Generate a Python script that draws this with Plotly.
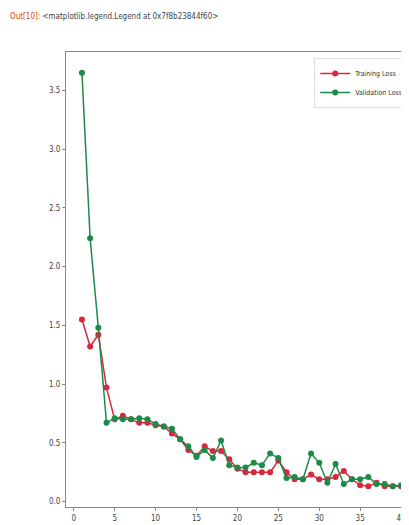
import plotly.graph_objects as go

epochs = [1, 2, 3, 4, 5, 6, 7, 8, 9, 10, 11, 12, 13, 14, 15, 16, 17, 18, 19, 20,
          21, 22, 23, 24, 25, 26, 27, 28, 29, 30, 31, 32, 33, 34, 35, 36, 37, 38, 39, 40]
training_loss = [1.55, 1.32, 1.42, 0.97, 0.70, 0.73, 0.70, 0.67, 0.67, 0.65,
                 0.64, 0.58, 0.53, 0.44, 0.39, 0.47, 0.43, 0.43, 0.36, 0.28,
                 0.25, 0.25, 0.25, 0.25, 0.35, 0.25, 0.19, 0.19, 0.23, 0.19,
                 0.19, 0.21, 0.26, 0.19, 0.14, 0.13, 0.16, 0.13, 0.13, 0.13]
validation_loss = [3.65, 2.24, 1.48, 0.67, 0.71, 0.70, 0.70, 0.71, 0.70, 0.66,
                   0.64, 0.62, 0.53, 0.47, 0.38, 0.44, 0.37, 0.52, 0.31, 0.29,
                   0.29, 0.33, 0.31, 0.41, 0.37, 0.20, 0.21, 0.19, 0.41, 0.33,
                   0.16, 0.32, 0.15, 0.19, 0.19, 0.21, 0.15, 0.15, 0.13, 0.14]
x_ticks = [0, 5, 10, 15, 20, 25, 30, 35, 40]
y_ticks = [0.0, 0.5, 1.0, 1.5, 2.0, 2.5, 3.0, 3.5]

RED = "#d8283c"
GREEN = "#1d8a4a"
NARROW = "Liberation Sans Narrow, DejaVu Sans Condensed, Liberation Sans, sans-serif"

fig = go.Figure()
fig.add_trace(go.Scatter(x=epochs, y=training_loss, mode="lines+markers",
                         name="Training Loss",
                         line=dict(color=RED, width=1.5),
                         marker=dict(color=RED, size=6, symbol="circle")))
fig.add_trace(go.Scatter(x=epochs, y=validation_loss, mode="lines+markers",
                         name="Validation Loss",
                         line=dict(color=GREEN, width=1.5),
                         marker=dict(color=GREEN, size=6, symbol="circle")))

tick_font = dict(family=NARROW, size=8, color="#444444")

fig.update_layout(
    width=409, height=525,
    margin=dict(l=58, r=0, t=44, b=26, autoexpand=False),
    paper_bgcolor="white", plot_bgcolor="white",
    showlegend=True,
    legend=dict(x=0.975, y=0.987, xanchor="right", yanchor="top",
                bgcolor="white", bordercolor="#dddddd", borderwidth=1,
                font=dict(family=NARROW, size=7, color="#333333"),
                itemwidth=30, tracegroupgap=0),
    xaxis=dict(range=[-0.95, 41.95], tickvals=x_ticks, showgrid=False, zeroline=False,
               showline=True, linecolor="#888888", linewidth=1, mirror=True,
               ticks="outside", ticklen=3, tickcolor="#888888", tickfont=tick_font),
    yaxis=dict(range=[-0.046, 3.826], tickvals=y_ticks, tickformat=".1f",
               showgrid=False, zeroline=False,
               showline=True, linecolor="#888888", linewidth=1, mirror=True,
               ticks="outside", ticklen=3, tickcolor="#888888", tickfont=tick_font),
    annotations=[dict(
        xref="paper", yref="paper", x=-0.165, y=1.077, xanchor="left", yanchor="middle",
        showarrow=False,
        text='<span style="color:#D84315">Out[10]:</span> &lt;matplotlib.legend.Legend at 0x7f8b23844f60&gt;',
        font=dict(family=NARROW, size=8, color="#444444"))],
)

fig.write_html("out.html")
